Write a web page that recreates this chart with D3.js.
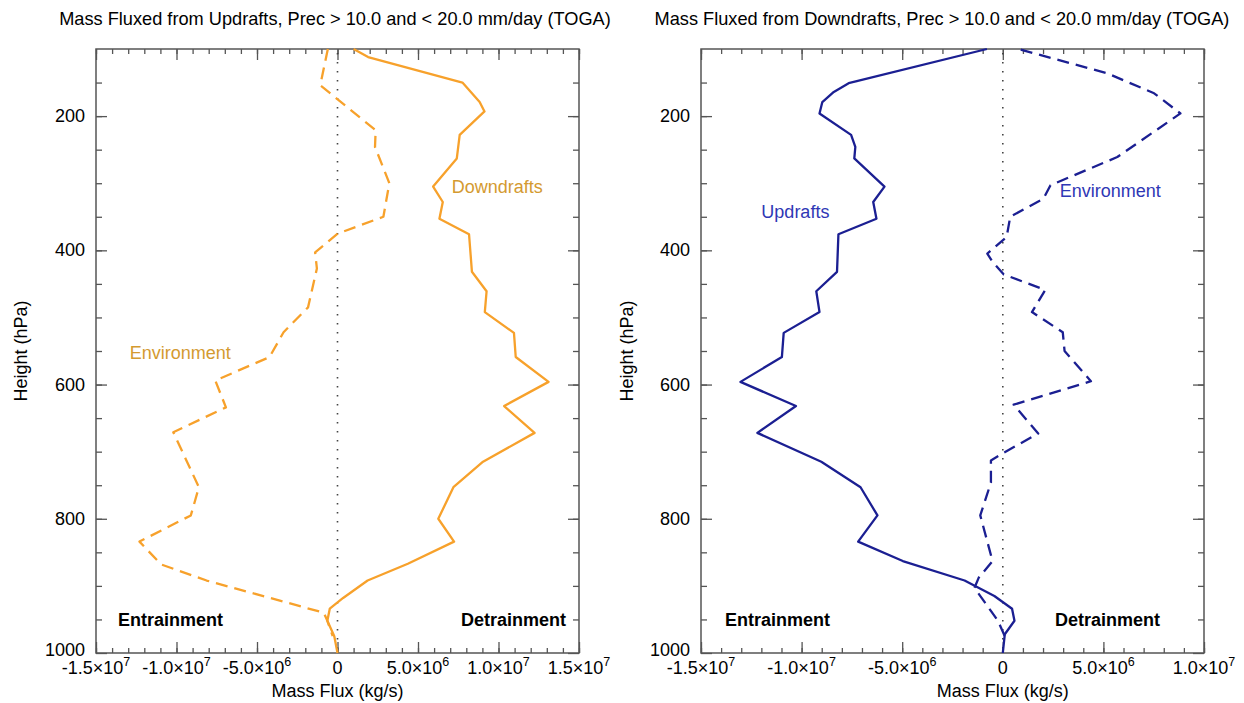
<!DOCTYPE html>
<html>
<head>
<meta charset="utf-8">
<script src="https://cdn.jsdelivr.net/npm/d3@7"></script>
<style>
  body { margin: 0; background: #fff; }
  svg { display: block; }
  text { font-family: "Liberation Sans", Arial, Helvetica, sans-serif; fill: #000; }
</style>
</head>
<body>
<svg id="chart" width="1244" height="703"></svg>
<script>
// ---- Mass fluxed from updrafts (TOGA, 10-20 mm/day) ----
// Downdraft profile: pressure (hPa) and mass flux (kg/s)
const updDownPres = [100, 112, 150, 179, 193, 228, 263, 305, 328, 353, 376, 432, 461, 492, 523, 559, 596, 632, 672, 715, 753, 800, 834, 867, 892, 918, 934, 952, 975, 1000];
const updDownFlux = [1.0e6, 1.9e6, 7.76e6, 8.83e6, 9.13e6, 7.59e6, 7.41e6, 5.94e6, 6.54e6, 6.33e6, 8.17e6, 8.35e6, 9.26e6, 9.15e6, 10.96e6, 11.07e6, 13.11e6, 10.35e6, 12.24e6, 9.04e6, 7.2e6, 6.26e6, 7.24e6, 4.37e6, 1.87e6, 0.35e6, -0.48e6, -0.63e6, -0.2e6, 0];
// Environment profile
const updEnvPres = [100, 154, 221, 246, 300, 350, 375, 403, 427, 485, 522, 559, 594, 634, 671, 753, 795, 834, 868, 892, 940, 952, 975];
const updEnvFlux = [-0.6e6, -1.07e6, 2.37e6, 2.33e6, 3.22e6, 2.85e6, 0.02e6, -1.39e6, -1.28e6, -1.83e6, -3.35e6, -4.22e6, -7.59e6, -6.93e6, -10.2e6, -8.61e6, -9.11e6, -12.3e6, -10.96e6, -8.13e6, -0.85e6, -0.63e6, -0.3e6];

// ---- Mass fluxed from downdrafts ----
// Updraft profile
const dnUpPres = [100, 151, 164, 179, 196, 228, 246, 263, 305, 328, 353, 376, 432, 461, 492, 523, 559, 596, 632, 672, 715, 753, 795, 834, 863, 892, 915, 934, 952, 972, 1000];
const dnUpFlux = [-0.79e6, -7.66e6, -8.4e6, -8.97e6, -9.11e6, -7.54e6, -7.33e6, -7.38e6, -5.88e6, -6.44e6, -6.28e6, -8.17e6, -8.24e6, -9.27e6, -9.11e6, -10.89e6, -10.98e6, -13.04e6, -10.28e6, -12.2e6, -9.02e6, -7.07e6, -6.23e6, -7.19e6, -4.97e6, -1.9e6, -0.42e6, 0.46e6, 0.58e6, 0.1e6, 0];
// Environment profile
const dnEnvPres = [101, 136, 166, 196, 261, 303, 323, 350, 380, 405, 417, 436, 459, 492, 522, 550, 595, 630, 673, 702, 713, 746, 795, 863, 888, 903, 952, 975];
const dnEnvFlux = [0.89e6, 5.17e6, 7.52e6, 8.83e6, 5.69e6, 2.37e6, 2.02e6, 0.37e6, 0.19e6, -0.77e6, -0.51e6, 0.05e6, 2.11e6, 1.45e6, 2.98e6, 3.07e6, 4.38e6, 0.54e6, 1.76e6, 0.02e6, -0.59e6, -0.59e6, -1.12e6, -0.51e6, -1.2e6, -1.41e6, -0.24e6, 0.1e6];

// Axis ranges and tick values
const pressureDomain = [100, 1000];
const pressureMajorTicks = [200, 400, 600, 800, 1000];
const leftFluxDomain = [-1.5e7, 1.5e7];
const rightFluxDomain = [-1.5e7, 1.0e7];
const leftFluxTicks = [-1.5e7, -1.0e7, -5e6, 0, 5e6, 1.0e7, 1.5e7];
const rightFluxTicks = [-1.5e7, -1.0e7, -5e6, 0, 5e6, 1.0e7];

const titles = [
  "Mass Fluxed from Updrafts, Prec > 10.0 and < 20.0 mm/day (TOGA)",
  "Mass Fluxed from Downdrafts, Prec > 10.0 and < 20.0 mm/day (TOGA)"
];

const svg = d3.select("#chart");
const plotTop = 49, plotBottom = 653;
const FS = 18;

const panels = [
  {
    x0: 96, x1: 579, domain: leftFluxDomain, ticks: leftFluxTicks,
    title: titles[0], titleX: 335, axisLabelX: 27,
    line: "#f7a12b", label: "#d49a30",
    series: [
      { p: updDownPres, v: updDownFlux, dashed: false },
      { p: updEnvPres, v: updEnvFlux, dashed: true }
    ],
    notes: [
      { text: "Downdrafts", v: 7.1e6, p: 314 },
      { text: "Environment", v: -12.9e6, p: 562 }
    ],
    entrX: 118, detrX: 566
  },
  {
    x0: 701, x1: 1204, domain: rightFluxDomain, ticks: rightFluxTicks,
    title: titles[1], titleX: 942, axisLabelX: 633,
    line: "#1b1f92", label: "#2f37b5",
    series: [
      { p: dnUpPres, v: dnUpFlux, dashed: false },
      { p: dnEnvPres, v: dnEnvFlux, dashed: true }
    ],
    notes: [
      { text: "Updrafts", v: -12.0e6, p: 352 },
      { text: "Environment", v: 2.83e6, p: 320 }
    ],
    entrX: 725, detrX: 1160
  }
];

// Scientific label: mantissa×10^exponent
function sciLabel(sel, val) {
  if (val === 0) { sel.text("0"); return; }
  const exp = Math.floor(Math.log10(Math.abs(val)));
  const man = (val / Math.pow(10, exp)).toFixed(1);
  sel.append("tspan").text(man + "\u00d710");
  sel.append("tspan").attr("dy", -8).attr("font-size", 12.5).text(exp);
}

panels.forEach(pn => {
  const x = d3.scaleLinear().domain(pn.domain).range([pn.x0, pn.x1]);
  const y = d3.scaleLinear().domain(pressureDomain).range([plotTop, plotBottom]);
  const g = svg.append("g");

  const minorX = d3.range(pn.domain[0], pn.domain[1] + 1, 1e6);
  const minorY = d3.range(150, 1000, 50);

  const axisStyle = a => {
    a.select(".domain").remove();
    a.selectAll("line").attr("stroke", "#555").attr("stroke-width", 1.3);
    a.selectAll("text").remove();
  };

  // Major and minor ticks on all four sides, pointing inward
  [[d3.axisBottom, plotBottom], [d3.axisTop, plotTop]].forEach(([ax, yy]) => {
    g.append("g").attr("transform", `translate(0,${yy})`)
      .call(ax(x).tickValues(minorX).tickSize(-5)).call(axisStyle);
    g.append("g").attr("transform", `translate(0,${yy})`)
      .call(ax(x).tickValues(pn.ticks).tickSize(-11)).call(axisStyle);
  });
  [[d3.axisLeft, pn.x0], [d3.axisRight, pn.x1]].forEach(([ax, xx]) => {
    g.append("g").attr("transform", `translate(${xx},0)`)
      .call(ax(y).tickValues(minorY).tickSize(-6)).call(axisStyle);
    g.append("g").attr("transform", `translate(${xx},0)`)
      .call(ax(y).tickValues(pressureMajorTicks).tickSize(-11)).call(axisStyle);
  });

  // Plot frame
  g.append("rect")
    .attr("x", pn.x0).attr("y", plotTop)
    .attr("width", pn.x1 - pn.x0).attr("height", plotBottom - plotTop)
    .attr("fill", "none").attr("stroke", "#555").attr("stroke-width", 1.5);

  // Zero reference line
  g.append("line")
    .attr("x1", x(0)).attr("x2", x(0)).attr("y1", plotTop + 4).attr("y2", plotBottom)
    .attr("stroke", "#444").attr("stroke-width", 1.6)
    .attr("stroke-dasharray", "1.6,7.4");

  // Profiles
  pn.series.forEach(s => {
    const pts = s.p.map((p, i) => [s.v[i], p]);
    const line = d3.line().x(d => x(d[0])).y(d => y(d[1]));
    g.append("path")
      .attr("d", line(pts))
      .attr("fill", "none")
      .attr("stroke", pn.line)
      .attr("stroke-width", 2.3)
      .attr("stroke-linejoin", "round")
      .attr("stroke-dasharray", s.dashed ? "12,7" : null);
  });

  // Series labels
  pn.notes.forEach(n => {
    g.append("text").attr("x", x(n.v)).attr("y", y(n.p))
      .attr("font-size", FS).style("fill", pn.label).text(n.text);
  });

  // Entrainment / detrainment annotations
  g.append("text").attr("x", pn.entrX).attr("y", y(960))
    .attr("font-size", FS).attr("font-weight", "bold").text("Entrainment");
  g.append("text").attr("x", pn.detrX).attr("y", y(960))
    .attr("text-anchor", "end")
    .attr("font-size", FS).attr("font-weight", "bold").text("Detrainment");

  // Y tick labels
  pressureMajorTicks.forEach(t => {
    g.append("text").attr("x", pn.x0 - 11).attr("y", y(t) + (t === 1000 ? 3 : 6))
      .attr("text-anchor", "end").attr("font-size", FS).text(t);
  });

  // X tick labels
  pn.ticks.forEach(t => {
    const tx = g.append("text").attr("x", x(t)).attr("y", plotBottom + 21)
      .attr("text-anchor", "middle").attr("font-size", FS);
    sciLabel(tx, t);
  });

  // Axis titles
  g.append("text").attr("x", x(0)).attr("y", 697)
    .attr("text-anchor", "middle").attr("font-size", FS).text("Mass Flux (kg/s)");
  g.append("text")
    .attr("transform", `translate(${pn.axisLabelX},${(plotTop + plotBottom) / 2}) rotate(-90)`)
    .attr("text-anchor", "middle").attr("font-size", FS).text("Height (hPa)");

  // Panel title
  g.append("text").attr("x", pn.titleX).attr("y", 25)
    .attr("text-anchor", "middle").attr("font-size", 18.2).text(pn.title);
});
</script>
</body>
</html>
